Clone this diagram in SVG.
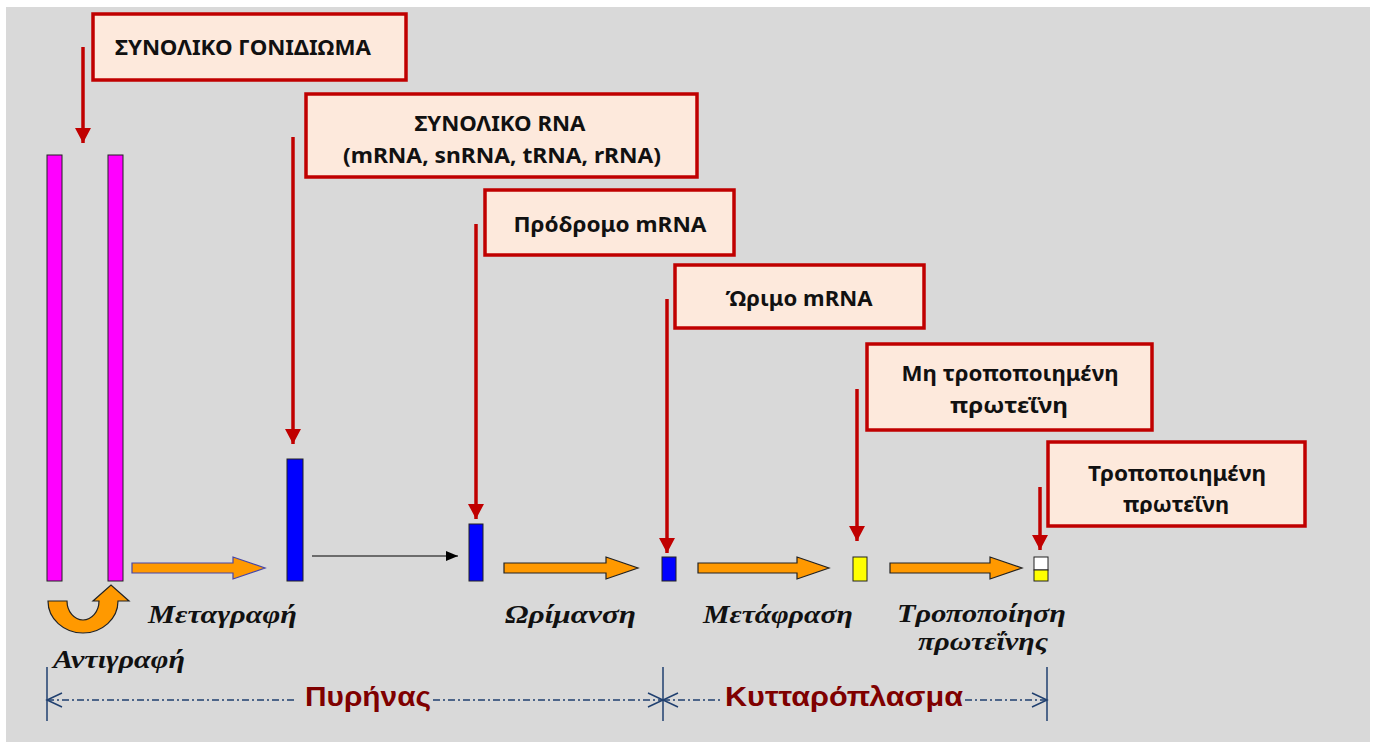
<svg xmlns="http://www.w3.org/2000/svg" width="1378" height="742" viewBox="0 0 1378 742">
<style>
.box{fill:#fde9dc;stroke:#c00000;stroke-width:3.5}
.bt{font-family:"Noto Sans","Open Sans",sans-serif;font-weight:bold;font-size:21.5px;fill:#111;text-anchor:middle}
.lbl{font-family:"Liberation Serif","Times New Roman",serif;font-weight:bold;font-style:italic;font-size:26px;fill:#111}
.reg{font-family:"Liberation Sans",Arial,sans-serif;font-weight:bold;font-size:27px;fill:#7f0000}
.red{stroke:#c00000;stroke-width:3.5;fill:none}
.oa{fill:#ff9900;stroke:#222;stroke-width:1.2}
.dim{stroke:#1f3f6f;stroke-width:1.5;fill:none}
.dash{stroke:#1f3f6f;stroke-width:1.5;fill:none;stroke-dasharray:7 3 2 3}
</style>
<defs>
<marker id="rh" markerUnits="userSpaceOnUse" markerWidth="16" markerHeight="16" refX="15" refY="8" orient="auto">
<path d="M0,0 L15,8 L0,16 Z" fill="#c00000"/>
</marker>
<marker id="bh" markerUnits="userSpaceOnUse" markerWidth="12" markerHeight="10" refX="12" refY="5" orient="auto">
<path d="M0,0 L12,5 L0,10 Z" fill="#000"/>
</marker>
<clipPath id="c6"><rect x="1048" y="442" width="258" height="72"/></clipPath>
</defs>
<rect x="6" y="7" width="1364" height="735" fill="#d9d9d9"/>

<g id="connectors">
<line class="red" x1="83" y1="47" x2="83" y2="143" marker-end="url(#rh)"/>
<line class="red" x1="293" y1="137" x2="293" y2="444" marker-end="url(#rh)"/>
<line class="red" x1="476" y1="224" x2="476" y2="519" marker-end="url(#rh)"/>
<line class="red" x1="667" y1="299" x2="667" y2="553" marker-end="url(#rh)"/>
<line class="red" x1="857" y1="389" x2="857" y2="541" marker-end="url(#rh)"/>
<line class="red" x1="1040" y1="487" x2="1040" y2="550" marker-end="url(#rh)"/>
<line x1="312" y1="556" x2="458" y2="556" stroke="#000" stroke-width="1.2" marker-end="url(#bh)"/>
<path class="oa" style="stroke:#4646a8" d="M132,563 L233,563 L233,557 L265,568 L233,579 L233,573 L132,573 Z"/>
<path class="oa" d="M504,563 L606,563 L606,557 L638,568 L606,579 L606,573 L504,573 Z"/>
<path class="oa" d="M698,563 L797,563 L797,557 L829,568 L797,579 L797,573 L698,573 Z"/>
<path class="oa" d="M890,563 L990,563 L990,557 L1022,568 L990,579 L990,573 L890,573 Z"/>
<path class="oa" d="M48,601 L67,601 A16,19 0 0 0 99,601 L93,601 L111,585 L129,601 L118,601 A35,32 0 0 1 48,601 Z"/>
</g>

<g id="dimension">
<line class="dim" x1="47" y1="667" x2="47" y2="721"/>
<line class="dim" x1="663" y1="667" x2="663" y2="721"/>
<line class="dim" x1="1047" y1="667" x2="1047" y2="721"/>
<line class="dash" x1="47" y1="700" x2="297" y2="700"/>
<line class="dash" x1="433" y1="700" x2="663" y2="700"/>
<line class="dash" x1="663" y1="700" x2="720" y2="700"/>
<line class="dash" x1="965" y1="700" x2="1047" y2="700"/>
<path class="dim" d="M62,693 L47,700 L62,707 M648,693 L663,700 L648,707 M678,693 L663,700 L678,707 M1032,693 L1047,700 L1032,707"/>
<text class="reg" x="305" y="706" textLength="126" lengthAdjust="spacingAndGlyphs">Πυρήνας</text>
<text class="reg" x="725" y="706" textLength="238" lengthAdjust="spacingAndGlyphs">Κυτταρόπλασμα</text>
</g>

<g id="bars">
<rect x="47" y="155" width="15" height="426" fill="#ff00ff" stroke="#222" stroke-width="1"/>
<rect x="108" y="155" width="15" height="426" fill="#ff00ff" stroke="#222" stroke-width="1"/>
<rect x="287" y="459" width="16" height="122" fill="#0000ff" stroke="#222" stroke-width="1"/>
<rect x="469" y="524" width="14" height="57" fill="#0000ff" stroke="#222" stroke-width="1"/>
<rect x="662" y="557" width="14" height="24" fill="#0000ff" stroke="#222" stroke-width="1"/>
<rect x="853" y="557" width="14" height="24" fill="#ffff00" stroke="#222" stroke-width="1"/>
<rect x="1034" y="557" width="14" height="13" fill="#ffffff" stroke="#222" stroke-width="1"/>
<rect x="1034" y="570" width="14" height="11" fill="#ffff00" stroke="#222" stroke-width="1"/>
</g>

<g id="labels">
<text class="lbl" x="148" y="623" textLength="149" lengthAdjust="spacingAndGlyphs">Μεταγραφή</text>
<text class="lbl" x="53" y="668" textLength="132" lengthAdjust="spacingAndGlyphs">Αντιγραφή</text>
<text class="lbl" x="505" y="623" textLength="131" lengthAdjust="spacingAndGlyphs">Ωρίμανση</text>
<text class="lbl" x="703" y="623" textLength="150" lengthAdjust="spacingAndGlyphs">Μετάφραση</text>
<text class="lbl" x="897" y="622" textLength="169" lengthAdjust="spacingAndGlyphs">Τροποποίηση</text>
<text class="lbl" x="918" y="650" textLength="130" lengthAdjust="spacingAndGlyphs">πρωτεΐνης</text>
</g>

<g id="node1">
<rect class="box" x="93" y="14" width="313" height="66"/>
<text class="bt" x="243" y="55" textLength="256" lengthAdjust="spacingAndGlyphs">ΣΥΝΟΛΙΚΟ ΓΟΝΙΔΙΩΜΑ</text>
</g>
<g id="node2">
<rect class="box" x="306" y="94" width="391" height="83"/>
<text class="bt" x="500" y="131" textLength="171" lengthAdjust="spacingAndGlyphs">ΣΥΝΟΛΙΚΟ RNA</text>
<text class="bt" x="502" y="163" textLength="318" lengthAdjust="spacingAndGlyphs">(mRNA, snRNA, tRNA, rRNA)</text>
</g>
<g id="node3">
<rect class="box" x="485" y="190" width="249" height="65"/>
<text class="bt" x="610" y="232" textLength="193" lengthAdjust="spacingAndGlyphs">Πρόδρομο mRNA</text>
</g>
<g id="node4">
<rect class="box" x="675" y="265" width="249" height="63"/>
<text class="bt" x="799" y="306" textLength="147" lengthAdjust="spacingAndGlyphs">Ώριμο mRNA</text>
</g>
<g id="node5">
<rect class="box" x="867" y="344" width="285" height="86"/>
<text class="bt" x="1010" y="381" textLength="217" lengthAdjust="spacingAndGlyphs">Μη τροποποιημένη</text>
<text class="bt" x="1009" y="413" textLength="118" lengthAdjust="spacingAndGlyphs">πρωτεΐνη</text>
</g>
<g id="node6">
<rect class="box" x="1048" y="442" width="257" height="84"/>
<text class="bt" x="1177" y="481" textLength="178" lengthAdjust="spacingAndGlyphs">Τροποποιημένη</text>
<text class="bt" x="1176" y="512" textLength="106" lengthAdjust="spacingAndGlyphs" clip-path="url(#c6)">πρωτεΐνη</text>
</g>
</svg>
